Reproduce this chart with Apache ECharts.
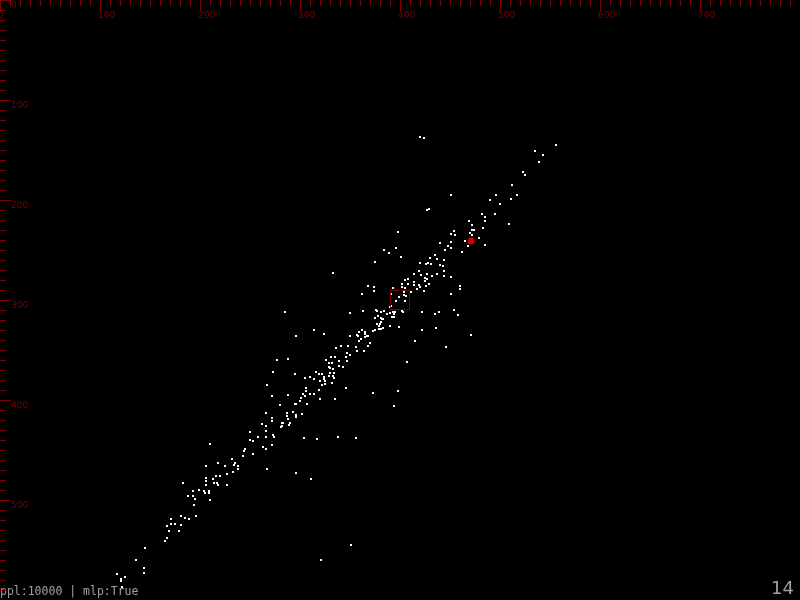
<!DOCTYPE html>
<html>
<head>
<meta charset="utf-8">
<script src="https://cdn.jsdelivr.net/npm/echarts@6/dist/echarts.min.js"></script>
<style>html,body{margin:0;padding:0;background:#000;}#c{width:800px;height:600px;}</style>
</head>
<body>
<div id="c"></div>
<script>
// ---- data ----
const xTickLabels = ['0','100','200','300','400','500','600','700'];
const yTickLabels = ['0','100','200','300','400','500'];
const points = [
[420,137],[424,138],[556,145],[535,151],[543,155],[539,162],[523,172],[525,175],[512,185],[496,195],[517,195],[451,195],[490,200],[511,199],[500,204],[429,209],[427,210],[482,214],[495,214],[485,217],[485,221],[469,221],[472,225],[509,224],[483,228],[472,230],[474,230],[454,231],[451,234],[455,235],[470,233],[472,235],[479,238],[398,232],[440,243],[451,242],[465,241],[468,246],[485,245],[448,246],[451,248],[445,250],[384,250],[389,253],[396,248],[462,252],[435,255],[401,257],[430,258],[437,259],[444,260],[375,262],[420,263],[426,264],[428,263],[431,264],[440,265],[443,266],[333,273],[419,271],[414,274],[421,275],[427,274],[437,274],[444,271],[432,276],[444,276],[451,277],[405,280],[408,279],[425,278],[427,279],[425,281],[414,282],[402,284],[408,284],[419,285],[429,284],[414,285],[368,286],[374,287],[402,287],[405,288],[420,287],[426,286],[417,289],[393,288],[460,286],[460,289],[374,291],[411,292],[424,291],[362,294],[451,294],[404,292],[399,297],[404,295],[406,296],[396,301],[405,301],[391,294],[391,306],[390,307],[376,310],[377,311],[381,312],[384,311],[387,314],[390,313],[393,312],[395,312],[394,314],[402,311],[403,312],[392,317],[394,317],[422,312],[435,314],[439,312],[454,310],[458,315],[350,313],[363,311],[378,316],[375,318],[381,318],[382,319],[383,319],[381,322],[380,324],[377,324],[379,326],[379,329],[381,329],[383,328],[390,326],[399,327],[373,331],[375,330],[422,330],[436,328],[471,335],[415,341],[446,347],[350,336],[359,332],[362,330],[365,332],[365,334],[357,335],[358,336],[367,336],[365,337],[368,336],[361,339],[359,341],[370,343],[368,346],[356,347],[348,346],[341,346],[336,348],[357,351],[364,351],[347,353],[350,355],[346,357],[331,357],[335,357],
[285,312],[314,330],[324,334],[296,336],[277,360],[288,359],[326,360],
[273,372],[295,374],[305,378],[310,377],[316,372],[319,374],[322,374],[324,377],[324,379],[329,363],[332,363],[329,367],[330,368],[333,369],[330,373],[334,373],[329,376],[333,376],[334,378],[314,379],[320,381],[325,381],[325,384],[332,383],[322,385],[319,390],[267,385],[272,396],[306,388],[306,391],[303,394],[305,396],[301,398],[310,394],[314,394],[320,399],[335,399],[288,395],[300,401],[295,404],[296,404],[307,404],[280,405],[266,413],[287,413],[287,416],[293,412],[296,415],[296,417],[302,414],[288,419],[272,418],[272,421],[290,423],[289,425],[283,423],[282,423],[281,427],[282,426],[262,424],[266,426],[266,431],[250,432],[273,435],[274,437],[258,437],[266,437],[304,438],[317,439],[250,440],[253,441],[210,444],[272,445],[263,447],[266,449],[245,449],[244,451],[253,454],[243,456],[232,459],[235,463],[234,465],[238,466],[238,469],[218,463],[225,466],[206,466],[267,469],[296,473],[311,479],[233,472],[227,474],[216,476],[220,476],[206,478],[206,481],[213,479],[214,483],[217,483],[218,485],[206,485],[227,485],[183,483],[199,490],[193,491],[204,491],[205,493],[209,491],[209,493],[188,496],[193,496],[195,499],[210,500],[194,505],[181,516],[185,518],[189,519],[196,516],[171,519],[167,526],[171,524],[175,524],[181,525],[169,531],[179,531],[167,538],[165,541],[145,548],[136,560],[144,568],[144,573],[117,574],[121,579],[121,581],[125,577],[122,587],[321,560],
[339,361],[347,361],[339,366],[343,367],[346,388],[407,362],[373,393],[398,391],[394,406],[338,437],[356,438],[351,545]
];
const highlight = [[471,241]];
const focusBox = [[390,290,409,309]];
const footerText = 'ppl:10000 | mlp:True';
const frameText = '14';

// ---- chart ----
const axisRed = '#800000';
const labelRed = '#780000';
const chart = echarts.init(document.getElementById('c'), null, {renderer:'canvas'});
chart.setOption({
  animation:false,
  backgroundColor:'#000',
  grid:{left:0,right:0,top:0,bottom:0,containLabel:false,outerBoundsMode:'none'},
  xAxis:{
    type:'value', position:'top', min:0, max:800, interval:100,
    axisLine:{show:false},
    axisTick:{show:true, inside:true, length:11, lineStyle:{color:axisRed,width:1}},
    minorTick:{show:true, splitNumber:10, length:6, lineStyle:{color:axisRed,width:1}},
    splitLine:{show:false}, minorSplitLine:{show:false},
    axisLabel:{inside:true, margin:11, align:'left', verticalAlign:'top', color:labelRed,
      fontSize:9, fontFamily:'DejaVu Sans', showMaxLabel:false, padding:[0,0,0,-2],
      formatter:(v)=>{const i=Math.round(v/100);return xTickLabels[i]!==undefined?xTickLabels[i]:'';}}
  },
  yAxis:{
    type:'value', position:'left', inverse:true, min:0, max:600, interval:100,
    axisLine:{show:false},
    axisTick:{show:true, inside:true, length:11, lineStyle:{color:axisRed,width:1}},
    minorTick:{show:true, splitNumber:10, length:6, lineStyle:{color:axisRed,width:1}},
    splitLine:{show:false}, minorSplitLine:{show:false},
    axisLabel:{inside:true, margin:10, align:'left', verticalAlign:'top', color:labelRed,
      fontSize:9, fontFamily:'DejaVu Sans', showMaxLabel:false, padding:[1,0,0,1],
      formatter:(v)=>{const i=Math.round(v/100);return yTickLabels[i]!==undefined?yTickLabels[i]:'';}}
  },
  series:[
    {type:'custom', data:points, silent:true,
     renderItem:(params, api)=>{
       const p = api.coord([api.value(0), api.value(1)]);
       return {type:'rect', shape:{x:Math.round(p[0])-1, y:Math.round(p[1])-1, width:2, height:2},
               style:{fill:'#ffffff'}};
     }},
    {type:'custom', data:focusBox, silent:true, z:3,
     renderItem:(params, api)=>{
       const a = api.coord([api.value(0), api.value(1)]);
       const b = api.coord([api.value(2), api.value(3)]);
       return {type:'rect', shape:{x:Math.round(a[0])+0.5, y:Math.round(a[1])+0.5,
               width:Math.round(b[0]-a[0]), height:Math.round(b[1]-a[1])},
               style:{fill:null, stroke:axisRed, lineWidth:1}};
     }},
    {type:'scatter', data:highlight, symbol:'circle', symbolSize:7, silent:true,
     itemStyle:{color:'#ff0000'}, z:5}
  ],
  graphic:[
    {type:'text', left:0, top:586, silent:true,
     style:{text:footerText, fill:'#a0a0a0', font:'11.5px "DejaVu Sans Mono"'}},
    {type:'text', right:6, top:580, silent:true,
     style:{text:frameText, fill:'#a0a0a0', font:'18px "DejaVu Sans"'}}
  ]
});
</script>
</body>
</html>
